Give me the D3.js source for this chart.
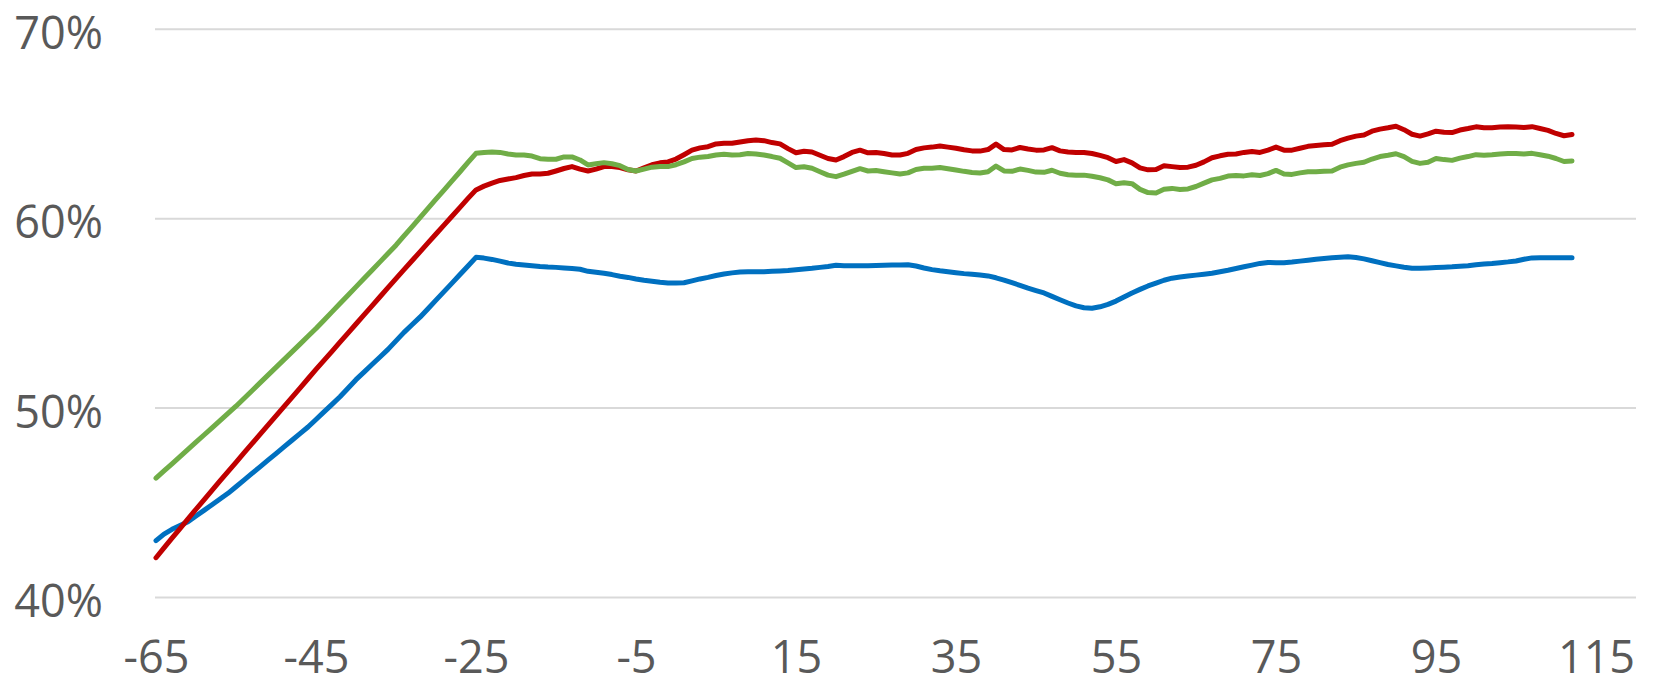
<!DOCTYPE html>
<html>
<head>
<meta charset="utf-8">
<script src="https://cdn.jsdelivr.net/npm/d3@7"></script>
<style>
  html, body { margin: 0; padding: 0; background: #ffffff; }
  svg { display: block; }
  text { font-family: "Open Sans", "Noto Sans", sans-serif; fill: #595959; }
</style>
</head>
<body>
<svg id="chart" width="1656" height="686"></svg>
<script>
// ---------- data ----------
const xStart = -65, xEnd = 112;
const xTicks = [-65, -45, -25, -5, 15, 35, 55, 75, 95, 115];
const yTicks = [40, 50, 60, 70];

// values (%) for x = -65 ... 112, one per integer step
const blueValues = [
  43.00, 43.35, 43.60, 43.80, 44.00, 44.30, 44.60, 44.90, 45.20, 45.50,
  45.85, 46.20, 46.55, 46.90, 47.25, 47.60, 47.95, 48.30, 48.65, 49.00,
  49.40, 49.80, 50.20, 50.60, 51.05, 51.50, 51.90, 52.30, 52.70, 53.10,
  53.55, 54.00, 54.40, 54.80, 55.25, 55.70, 56.15, 56.60, 57.05, 57.50,
  57.96, 57.92, 57.85, 57.76, 57.66, 57.60, 57.56, 57.52, 57.48, 57.45,
  57.43, 57.40, 57.37, 57.33, 57.22, 57.17, 57.12, 57.05, 56.96, 56.90,
  56.82, 56.75, 56.70, 56.64, 56.60, 56.60, 56.62, 56.72, 56.82, 56.90,
  57.00, 57.08, 57.14, 57.18, 57.20, 57.20, 57.20, 57.22, 57.24, 57.26,
  57.30, 57.34, 57.38, 57.43, 57.48, 57.54, 57.52, 57.52, 57.52, 57.52,
  57.53, 57.54, 57.55, 57.56, 57.57, 57.50, 57.40, 57.31, 57.25, 57.20,
  57.15, 57.10, 57.07, 57.03, 56.98, 56.88, 56.76, 56.62, 56.48, 56.33,
  56.20, 56.08, 55.90, 55.72, 55.55, 55.40, 55.30, 55.27, 55.35, 55.48,
  55.65, 55.87, 56.08, 56.27, 56.45, 56.60, 56.75, 56.86, 56.92, 56.97,
  57.02, 57.07, 57.12, 57.20, 57.28, 57.37, 57.46, 57.55, 57.64, 57.69,
  57.68, 57.68, 57.71, 57.76, 57.81, 57.86, 57.90, 57.94, 57.97, 57.99,
  57.95, 57.88, 57.78, 57.68, 57.58, 57.51, 57.44, 57.38, 57.38, 57.40,
  57.42, 57.44, 57.46, 57.49, 57.52, 57.57, 57.61, 57.64, 57.68, 57.72,
  57.77, 57.86, 57.93, 57.94, 57.94, 57.94, 57.94, 57.94
];

const redValues = [
  42.10, 42.62, 43.13, 43.64, 44.15, 44.66, 45.16, 45.66, 46.16, 46.65,
  47.14, 47.63, 48.12, 48.61, 49.10, 49.59, 50.08, 50.57, 51.06, 51.55,
  52.04, 52.52, 53.00, 53.48, 53.96, 54.44, 54.92, 55.40, 55.88, 56.36,
  56.84, 57.31, 57.78, 58.25, 58.72, 59.19, 59.66, 60.13, 60.60, 61.07,
  61.52, 61.72, 61.88, 62.02, 62.10, 62.17, 62.28, 62.36, 62.36, 62.40,
  62.52, 62.65, 62.75, 62.62, 62.52, 62.62, 62.75, 62.76, 62.70, 62.58,
  62.52, 62.68, 62.85, 62.95, 63.00, 63.15, 63.38, 63.62, 63.74, 63.80,
  63.95, 63.98, 63.98, 64.05, 64.12, 64.16, 64.12, 64.02, 63.95, 63.70,
  63.48, 63.56, 63.52, 63.35, 63.18, 63.10, 63.28, 63.50, 63.62, 63.48,
  63.50, 63.44, 63.36, 63.36, 63.45, 63.65, 63.74, 63.78, 63.84, 63.78,
  63.72, 63.64, 63.58, 63.57, 63.65, 63.94, 63.65, 63.63, 63.76, 63.68,
  63.62, 63.63, 63.75, 63.58, 63.52, 63.50, 63.49, 63.44, 63.34, 63.22,
  63.02, 63.12, 62.95, 62.68, 62.58, 62.60, 62.80, 62.75, 62.70, 62.72,
  62.82, 63.00, 63.22, 63.32, 63.40, 63.42, 63.50, 63.55, 63.50, 63.62,
  63.78, 63.62, 63.62, 63.72, 63.82, 63.86, 63.90, 63.93, 64.12, 64.25,
  64.36, 64.42, 64.62, 64.73, 64.80, 64.88, 64.70, 64.46, 64.36, 64.48,
  64.62, 64.56, 64.55, 64.68, 64.76, 64.85, 64.80, 64.80, 64.84, 64.86,
  64.84, 64.82, 64.86, 64.76, 64.66, 64.50, 64.38, 64.45
];

const greenValues = [
  46.30, 46.68, 47.06, 47.44, 47.82, 48.20, 48.58, 48.96, 49.34, 49.72,
  50.10, 50.51, 50.92, 51.33, 51.74, 52.15, 52.56, 52.97, 53.38, 53.79,
  54.20, 54.64, 55.08, 55.52, 55.96, 56.40, 56.84, 57.28, 57.72, 58.16,
  58.60, 59.09, 59.57, 60.06, 60.54, 61.03, 61.51, 62.00, 62.48, 62.97,
  63.45, 63.50, 63.52, 63.50, 63.42, 63.36, 63.36, 63.31, 63.17, 63.14,
  63.14, 63.26, 63.26, 63.10, 62.84, 62.90, 62.96, 62.90, 62.80, 62.60,
  62.52, 62.62, 62.72, 62.75, 62.75, 62.85, 63.00, 63.18, 63.25, 63.28,
  63.36, 63.40, 63.36, 63.38, 63.44, 63.42, 63.36, 63.28, 63.19, 62.95,
  62.70, 62.74, 62.66, 62.48, 62.30, 62.22, 62.35, 62.50, 62.64, 62.52,
  62.54, 62.48, 62.42, 62.36, 62.42, 62.60, 62.66, 62.66, 62.70, 62.64,
  62.57, 62.50, 62.44, 62.41, 62.48, 62.78, 62.52, 62.50, 62.62, 62.55,
  62.46, 62.45, 62.56, 62.40, 62.32, 62.30, 62.30, 62.24, 62.16, 62.05,
  61.85, 61.90, 61.85, 61.55, 61.38, 61.36, 61.55, 61.60, 61.54, 61.57,
  61.70, 61.88, 62.05, 62.13, 62.25, 62.28, 62.26, 62.32, 62.28, 62.38,
  62.55, 62.36, 62.34, 62.42, 62.48, 62.48, 62.50, 62.52, 62.72, 62.84,
  62.92, 62.98, 63.15, 63.28, 63.35, 63.43, 63.28, 63.03, 62.92, 62.98,
  63.18, 63.12, 63.08, 63.20, 63.28, 63.38, 63.35, 63.38, 63.42, 63.44,
  63.44, 63.42, 63.45, 63.38, 63.30, 63.18, 63.02, 63.05
];

const seriesNames = ["blue", "red", "green"];
const seriesColors = ["#0070C0", "#C00000", "#70AD47"];

// ---------- chart ----------
const W = 1656, H = 686;
const svg = d3.select("#chart");
svg.append("rect").attr("width", W).attr("height", H).attr("fill", "#ffffff");

const xs = d3.range(xStart, xEnd + 1);
const x = d3.scaleLinear().domain([-65, 120]).range([156, 1636]);
const y = d3.scaleLinear().domain([40, 70]).range([597.5, 29.3]);

// horizontal gridlines
svg.append("g").selectAll("line").data(yTicks).join("line")
  .attr("x1", x(-65) - 1).attr("x2", x(120))
  .attr("y1", d => y(d)).attr("y2", d => y(d))
  .attr("stroke", "#d9d9d9").attr("stroke-width", 2);

// y axis labels
const yAxis = d3.axisLeft(y).tickValues(yTicks).tickSize(0).tickPadding(0)
  .tickFormat(d => d + "%");
const gy = svg.append("g").attr("transform", "translate(103,0)").call(yAxis);
gy.select(".domain").remove();
gy.selectAll("text").attr("font-size", 45).attr("dy", "0.42em")
  .style("font-family", "'Open Sans', 'Noto Sans', sans-serif").attr("fill", "#595959");

// x axis labels
const xAxis = d3.axisBottom(x).tickValues(xTicks).tickSize(0).tickPadding(0)
  .tickFormat(d => d);
const gx = svg.append("g").attr("transform", "translate(0,626)").call(xAxis);
gx.select(".domain").remove();
gx.selectAll("text").attr("font-size", 45).attr("dy", "1.04em")
  .style("font-family", "'Open Sans', 'Noto Sans', sans-serif").attr("fill", "#595959");

// lines
const all = [blueValues, redValues, greenValues];
const line = d3.line().x((d, i) => x(xs[i])).y(d => y(d));
svg.append("g").selectAll("path").data(all).join("path")
  .attr("d", d => line(d))
  .attr("fill", "none")
  .attr("stroke", (d, i) => seriesColors[i])
  .attr("stroke-width", 5)
  .attr("stroke-linejoin", "round")
  .attr("stroke-linecap", "round");
</script>
</body>
</html>
